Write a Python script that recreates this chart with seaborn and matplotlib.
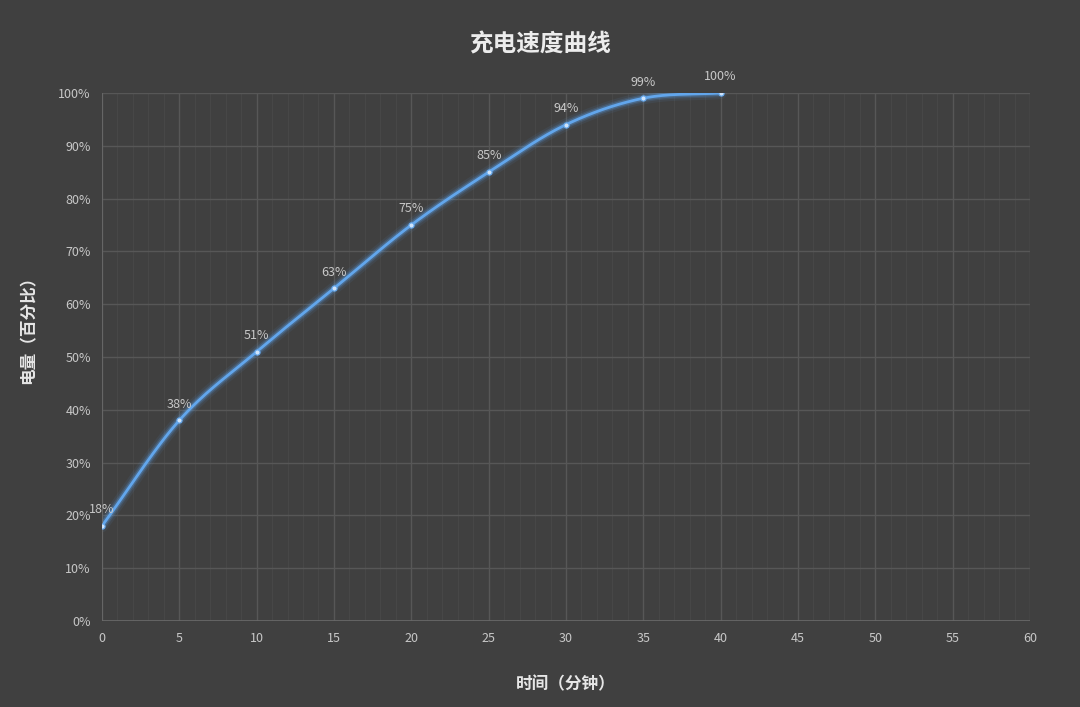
import numpy as np
import pandas as pd
import matplotlib
matplotlib.use("Agg")
import matplotlib.pyplot as plt
import seaborn as sns
from matplotlib.ticker import MultipleLocator, FuncFormatter

minutes = [0, 5, 10, 15, 20, 25, 30, 35, 40]
battery = [18, 38, 51, 63, 75, 85, 94, 99, 100]
labels = ["18%", "38%", "51%", "63%", "75%", "85%", "94%", "99%", "100%"]

sns.set_theme(style="dark")
plt.rcParams['font.family'] = ['Noto Sans CJK SC', 'DejaVu Sans']
bg = "#404040"
fig = plt.figure(figsize=(10.8, 7.07), dpi=100, facecolor=bg)
ax = fig.add_axes([0.0944, 0.1216, 0.8593, 0.7469])
ax.set_facecolor(bg)

# Catmull-Rom smoothing (Excel-like smoothed line)
x = np.array(minutes, float); y = np.array(battery, float)
px = np.concatenate([[2*x[0]-x[1]], x, [2*x[-1]-x[-2]]])
py = np.concatenate([[2*y[0]-y[1]], y, [2*y[-1]-y[-2]]])
sx, sy = [], []
t = np.linspace(0, 1, 30)
for i in range(1, len(px)-2):
    for P, out in ((px, sx), (py, sy)):
        p0, p1, p2, p3 = P[i-1:i+3]
        out.extend(0.5*((2*p1) + (-p0+p2)*t + (2*p0-5*p1+4*p2-p3)*t**2 + (-p0+3*p1-3*p2+p3)*t**3))
smooth = pd.DataFrame({"m": sx, "b": sy})

for lw, a in ((9, 0.08), (6, 0.15), (4, 0.3)):
    ax.plot(sx, sy, color="#5aa0e8", lw=lw, alpha=a, solid_capstyle="round")
sns.lineplot(data=smooth, x="m", y="b", ax=ax, color="#62a6ec", lw=2, sort=False)
ax.scatter(minutes, battery, s=14, color="#cfe4fb", zorder=5, edgecolor="#62a6ec", linewidth=0.8)
for xi, yi, lab in zip(minutes, battery, labels):
    ax.annotate(lab, (xi, yi), xytext=(0, 7), textcoords="offset points",
                ha="center", va="bottom", color="#c8c8c8", fontsize=9)

ax.set_xlim(0, 60); ax.set_ylim(0, 100)
ax.xaxis.set_major_locator(MultipleLocator(5))
ax.xaxis.set_minor_locator(MultipleLocator(1))
ax.yaxis.set_major_locator(MultipleLocator(10))
ax.yaxis.set_major_formatter(FuncFormatter(lambda v, p: f"{int(v)}%"))
ax.grid(which="major", color="#575757", lw=1)
ax.grid(which="minor", axis="x", color="#474747", lw=0.8)
ax.set_axisbelow(True)
for s in ax.spines.values():
    s.set_visible(False)
ax.axhline(0, color="#6a6a6a", lw=1.2)
ax.axvline(0, color="#6a6a6a", lw=1.2)
ax.tick_params(colors="#c8c8c8", labelsize=9, length=0, pad=8)
ax.set_xlabel("时间（分钟）", color="#e6e6e6", fontsize=12, fontweight="bold", labelpad=22)
ax.set_ylabel("电量（百分比）", color="#e6e6e6", fontsize=12, fontweight="bold", labelpad=14)
ax.yaxis.set_label_coords(-0.07, 0.56)
fig.text(0.5, 0.937, "充电速度曲线", ha="center", va="center", color="#ececec", fontsize=17, fontweight="bold")
fig.savefig("out.png", dpi=100, facecolor=bg)
